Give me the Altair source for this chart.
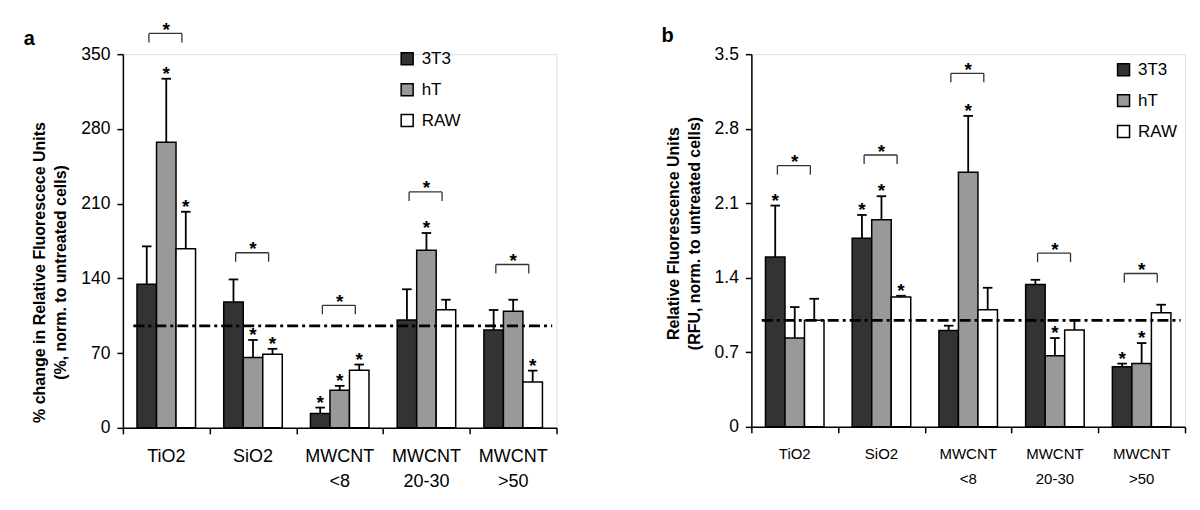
import altair as alt
import pandas as pd

FONT = "Liberation Sans"

categories = ["TiO2", "SiO2", "MWCNT\n<8", "MWCNT\n20-30", "MWCNT\n>50"]
series = ["3T3", "hT", "RAW"]
fill_colors = ["#333333", "#999999", "#ffffff"]

# ---- panel a : % change in RFU ----
a_mean = {
    "3T3": [134.5, 117.9, 13.4, 101.0, 91.7],
    "hT": [267.6, 65.8, 35.3, 166.3, 109.2],
    "RAW": [167.8, 69.0, 54.0, 110.7, 43.0],
}
a_sd = {
    "3T3": [35.5, 21.1, 5.6, 28.8, 18.7],
    "hT": [59.4, 16.5, 4.0, 16.2, 10.8],
    "RAW": [34.6, 5.0, 5.3, 9.3, 10.6],
}
a_star = {
    "3T3": [0, 0, 1, 0, 0],
    "hT": [1, 1, 1, 1, 0],
    "RAW": [1, 1, 1, 0, 1],
}
a_bracket = [369.4, 164.0, 114.8, 221.0, 153.0]
a_ref = 95.5
a_ticks = [0, 70, 140, 210, 280, 350]

# ---- panel b : RFU ----
b_mean = {
    "3T3": [1.594, 1.772, 0.906, 1.337, 0.565],
    "hT": [0.834, 1.946, 2.39, 0.668, 0.594],
    "RAW": [1.0, 1.219, 1.1, 0.909, 1.071],
}
b_sd = {
    "3T3": [0.484, 0.218, 0.044, 0.044, 0.029],
    "hT": [0.291, 0.22, 0.53, 0.166, 0.193],
    "RAW": [0.203, 0.012, 0.206, 0.091, 0.076],
}
b_star = {
    "3T3": [1, 1, 0, 0, 1],
    "hT": [0, 1, 1, 1, 1],
    "RAW": [0, 1, 0, 0, 0],
}
b_bracket = [2.453, 2.553, 3.32, 1.631, 1.44]
b_ref = 1.0
b_ticks = [0, 0.7, 1.4, 2.1, 2.8, 3.5]

BW = 0.225      # bar width in category units
CAP = 0.055     # half cap width
BR_LO, BR_HI = -0.2, 0.18


def panel(letter, mean, sd, star, bracket, ref, ticks, ytitle, W, H,
          cat_fs, legx, legy, letter_x, letter_y, title_y):
    ymax = ticks[-1]
    leg = 9 / (H / ymax)
    rows = []
    for gi, cat in enumerate(categories):
        for si, s in enumerate(series):
            x0 = gi + 0.5 + (si - 1.5) * BW
            xc = x0 + BW / 2
            m = mean[s][gi]
            rows.append(dict(cat=cat, series=s, x0=x0, x1=x0 + BW, xc=xc,
                             cl=xc - CAP, cr=xc + CAP, mean=m, top=m + sd[s][gi],
                             star=star[s][gi]))
    df = pd.DataFrame(rows)
    br = pd.DataFrame(dict(c=[i + 0.5 for i in range(5)], top=bracket))
    br["lo"] = br["c"] + BR_LO
    br["hi"] = br["c"] + BR_HI
    br["bot"] = br["top"] - leg
    legs = pd.concat([br.assign(xl=br["lo"]), br.assign(xl=br["hi"])])
    cats = pd.DataFrame(dict(c=[i + 0.5 for i in range(5)], label=categories))
    refdf = pd.DataFrame(dict(x=[0.12], x2=[4.95], y=[ref]))

    xs = alt.Scale(domain=[0, 5], nice=False, zero=False)
    ys = alt.Scale(domain=[0, ymax], nice=False)
    xaxis = alt.Axis(values=[0, 1, 2, 3, 4, 5], labels=False, title=None)
    yaxis = alt.Axis(values=ticks, format=".1~f", title=ytitle, titleY=title_y)

    base = alt.Chart(df)
    bars = base.mark_bar(stroke="black", strokeWidth=1.5).encode(
        x=alt.X("x0:Q", scale=xs, axis=xaxis),
        x2="x1:Q",
        y=alt.Y("mean:Q", scale=ys, axis=yaxis),
        y2=alt.datum(0),
        fill=alt.Fill("series:N", scale=alt.Scale(domain=series, range=fill_colors),
                      legend=alt.Legend(title=None, orient="none", legendX=legx, legendY=legy)),
    )
    err = base.mark_rule(color="black", strokeWidth=1.8).encode(
        x="xc:Q", y="mean:Q", y2="top:Q")
    caps = base.mark_rule(color="black", strokeWidth=1.8).encode(
        x="cl:Q", x2="cr:Q", y="top:Q")
    stars = base.transform_filter("datum.star == 1").mark_text(
        text="*", fontSize=19, fontWeight="bold", font=FONT, baseline="alphabetic", dy=1,
        color="black").encode(x="xc:Q", y="top:Q")
    refline = alt.Chart(refdf).mark_rule(color="black", strokeWidth=2.6,
                                         strokeDash=[11, 4, 3, 4]).encode(
        x="x:Q", x2="x2:Q", y="y:Q")
    bb = alt.Chart(br)
    brh = bb.mark_rule(color="#333333", strokeWidth=1.3).encode(x="lo:Q", x2="hi:Q", y="top:Q")
    brl = alt.Chart(legs).mark_rule(color="#333333", strokeWidth=1.3).encode(
        x="xl:Q", y="top:Q", y2="bot:Q")
    brs = bb.mark_text(text="*", fontSize=19, fontWeight="bold", font=FONT,
                       baseline="alphabetic", dy=2.5, color="black").encode(
        x=alt.X("c:Q"), y="top:Q")
    catlab = alt.Chart(cats).mark_text(fontSize=cat_fs, font=FONT, baseline="top",
                                       lineBreak="\n", lineHeight=25, color="black").encode(
        x="c:Q", y=alt.value(H + 20), text="label:N")
    let = alt.Chart(pd.DataFrame(dict(t=[letter]))).mark_text(
        fontSize=20, fontWeight="bold", font=FONT, align="left", baseline="alphabetic",
        color="black").encode(x=alt.value(letter_x), y=alt.value(letter_y), text="t:N")

    return alt.layer(bars, err, caps, stars, refline, brh, brl, brs, catlab, let).properties(
        width=W, height=H)


pa = panel("a", a_mean, a_sd, a_star, a_bracket, a_ref, a_ticks,
           ["% change in Relative Fluorescece Units", "(%, norm. to untreated cells)"],
           434, 374, 18, 276, -4, -99.3, -8.7, 218)
pb = panel("b", b_mean, b_sd, b_star, b_bracket, b_ref, b_ticks,
           ["Relative Fluorescence Units", "(RFU, norm. to untreated cells)"],
           434, 373, 15, 364, 7, -90, -11.7, 179)

chart = alt.hconcat(pa, pb, spacing=102).resolve_scale(fill="independent").resolve_legend(
    fill="independent").properties(
    padding={"left": 15, "top": 12, "right": 5, "bottom": 5}
).configure_view(stroke=None).configure(font=FONT).configure_axis(
    grid=False, domainColor="black", tickColor="black", domainWidth=1.5, tickWidth=1.5,
    tickSize=6, labelColor="black", labelFont=FONT, titleColor="black", titleFont=FONT
).configure_axisY(
    labelFontSize=17.5, labelPadding=7, titleFontSize=16, titleFontWeight="bold",
    titleLineHeight=21, titlePadding=12
).configure_legend(
    symbolType="square", symbolSize=144, symbolStrokeColor="black", symbolStrokeWidth=1.5,
    labelFontSize=17, labelFont=FONT, labelColor="black", rowPadding=12, labelOffset=6,
    padding=0
)

chart.save("out.html", embed_options={"renderer": "svg", "actions": False})
